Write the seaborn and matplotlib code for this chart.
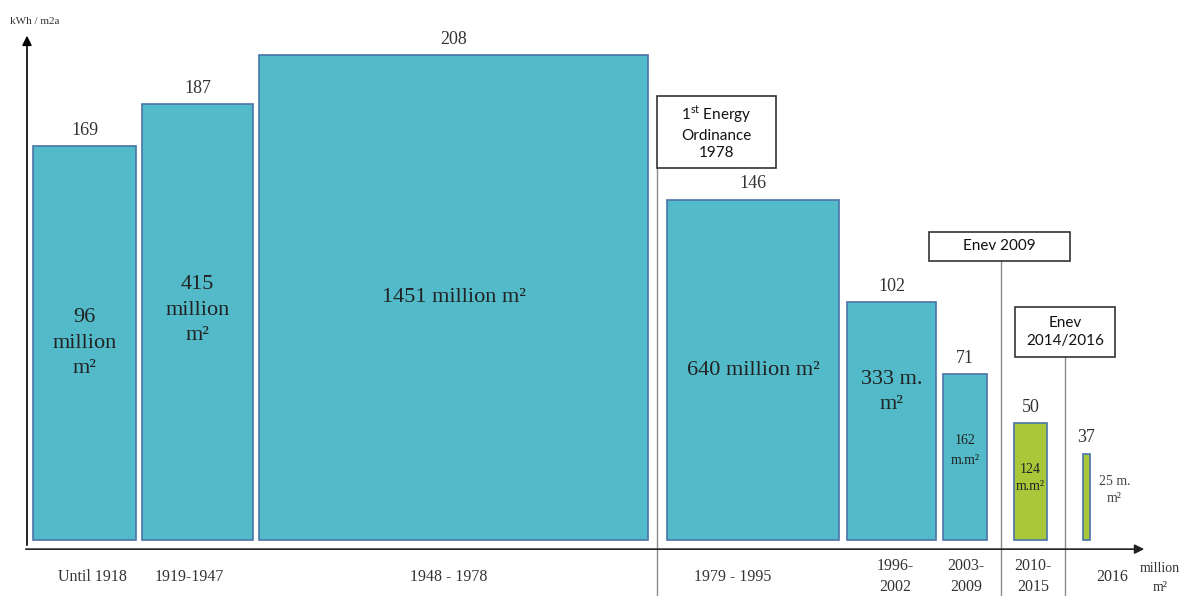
import matplotlib
matplotlib.use("Agg")
import matplotlib.pyplot as plt
import seaborn as sns
from matplotlib.patches import FancyArrowPatch

# ---- data ----
periods = ["Until 1918", "1919-1947", "1948 - 1978", "1979 - 1995",
           "1996-\n2002", "2003-\n2009", "2010-\n2015", "2016"]
demand = [169, 187, 208, 146, 102, 71, 50, 37]            # kWh / m2a
area_labels = ["96\nmillion\nm²", "415\nmillion\nm²", "1451 million m²",
               "640 million m²", "333 m.\nm²", "162\nm.m²", "124\nm.m²", "25 m.\nm²"]
bar_widths = [103, 111, 389, 172, 89, 44, 33, 7]          # displayed widths (not to scale)
gaps_before = [33, 6, 6, 19, 8, 7, 27, 36]
regulations = ["1$^{\\mathrm{st}}$ Energy\nOrdinance\n1978", "Enev 2009", "Enev\n2014/2016"]

teal = "#52BAC8"
green = "#A8C83A"
edge = "#4A74A8"
colors = [teal] * 6 + [green] * 2

sns.set_theme(style="white")
serif = ["Liberation Serif", "DejaVu Serif"]
sans = ["Lato", "DejaVu Sans"]
plt.rcParams["mathtext.fontset"] = "custom"
plt.rcParams["mathtext.rm"] = "Lato"

fig = plt.figure(figsize=(11.81, 5.96), dpi=100)
ax = fig.add_axes([0, 0, 1, 1])
ax.set_xlim(0, 1181)
ax.set_ylim(-24.0, 231.6)
ax.axis("off")

# positions
lefts = []
x = 0
for w, g in zip(bar_widths, gaps_before):
    x += g
    lefts.append(x)
    x += w
centers = [l + w / 2 for l, w in zip(lefts, bar_widths)]

ax.bar(lefts, demand, width=bar_widths, align="edge", color=colors,
       edgecolor=edge, linewidth=1.2, zorder=3)

# values above bars
for c, v in zip(centers, demand):
    ax.text(c, v + 3.2, str(v), ha="center", va="bottom", fontsize=13,
            family=serif, color="#333333")

# labels inside bars
inside_y = [84.5, 98.6, 103.8, 72.5, 63.5, 38.2, 26.6, 21.5]
inside_fs = [16, 16, 16, 16, 16, 10, 10, 10]
inside_ls = [1.45, 1.45, 1.2, 1.2, 1.45, 1.7, 1.4, 1.4]
for i, (c, lab) in enumerate(zip(centers, area_labels)):
    xx = c if i < 7 else c + 28
    ax.text(xx, inside_y[i], lab, ha="center", va="center", fontsize=inside_fs[i],
            family=serif, color="#222222" if i < 7 else "#444444",
            linespacing=inside_ls[i])

# period labels below
label_x = [92, 189, 449, 733, 895, 966, 1033, 1112]
for xx, lab in zip(label_x, periods):
    ax.text(xx, -15.8 if "\n" in lab else -16.0, lab, ha="center", va="center",
            fontsize=11.5, family=serif, color="#333333", linespacing=1.4)
ax.text(1160, -16.2, "million\nm²", ha="center", va="center", fontsize=10,
        family=serif, color="#333333", linespacing=1.6)

# axes arrows
ax.add_patch(FancyArrowPatch((27, -3.4), (27, 217.5), arrowstyle="-|>",
                             mutation_scale=14, color="black", lw=1.2, zorder=4))
ax.add_patch(FancyArrowPatch((23, -3.9), (1147, -3.9), arrowstyle="-|>",
                             mutation_scale=14, color="#222222", lw=1.2, zorder=4))
ax.text(10, 222.5, "kWh / m2a", ha="left", va="center", fontsize=8,
        family=serif, color="#333333")

# regulation lines and boxes
line_x = [657, 1001, 1065]
line_top = [159.6, 119.7, 78.5]
box_xy = [(657, 159.6, 776, 190.5), (929, 119.7, 1070, 132.2), (1015, 78.5, 1115, 99.9)]
for lx, lt in zip(line_x, line_top):
    ax.plot([lx, lx], [-24, lt], color="#8a8a8a", lw=1.0, zorder=2)
for (x0, y0, x1, y1), txt in zip(box_xy, regulations):
    ax.add_patch(plt.Rectangle((x0, y0), x1 - x0, y1 - y0, facecolor="white",
                               edgecolor="#333333", lw=1.2, zorder=5))
    ax.text((x0 + x1) / 2, (y0 + y1) / 2, txt, ha="center", va="center",
            fontsize=11, family=sans, color="#111111", zorder=6, linespacing=1.3)

fig.savefig("out.png", dpi=100)
